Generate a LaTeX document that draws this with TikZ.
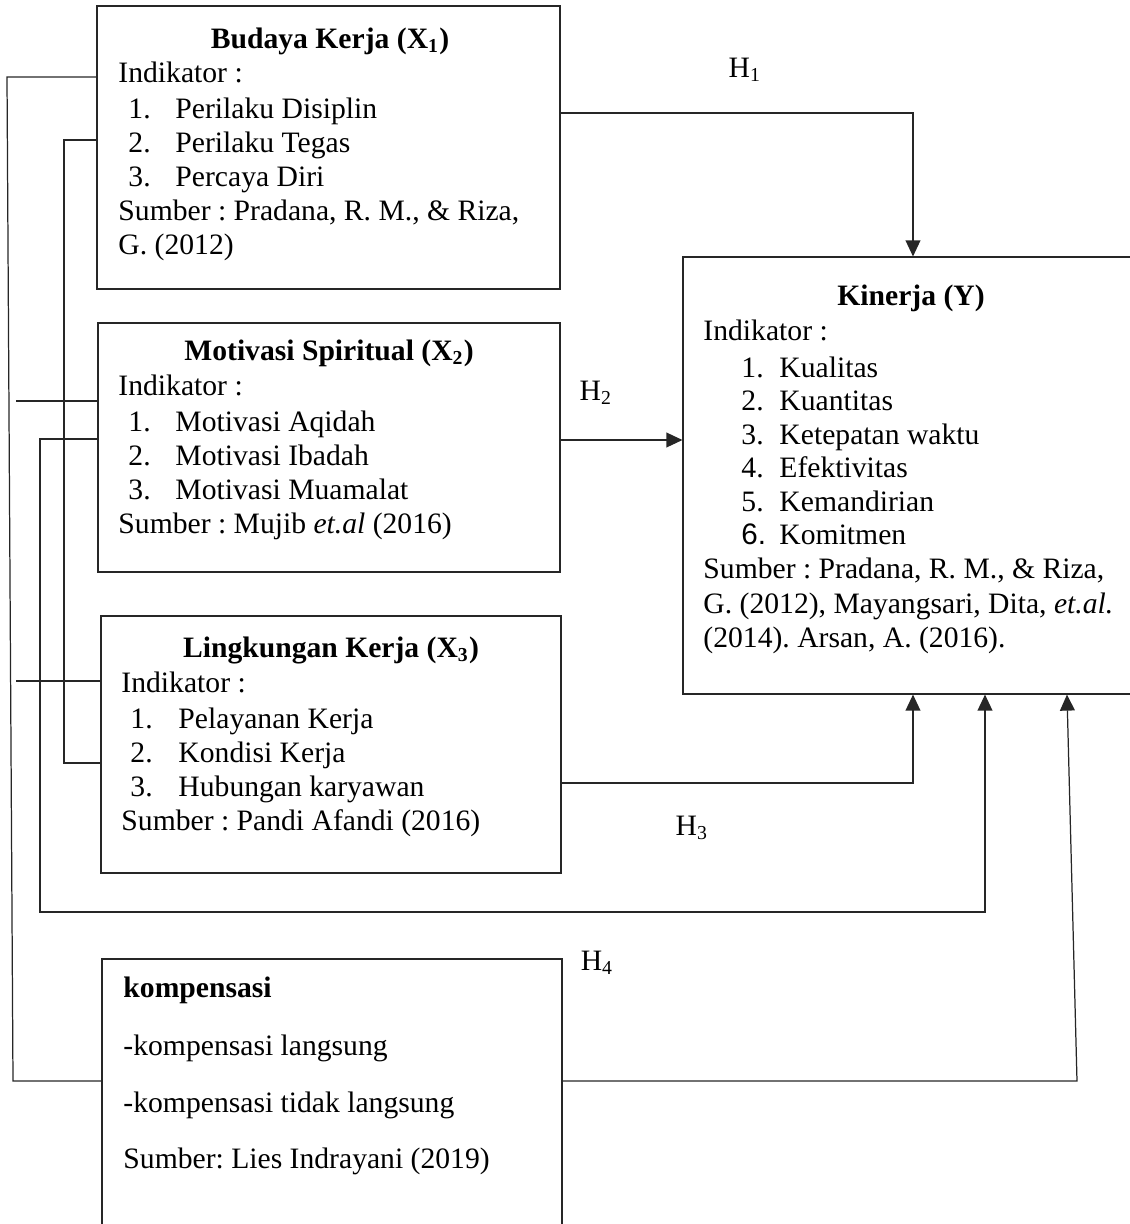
\documentclass[tikz,border=0pt]{standalone}
\usepackage{fontspec}
\setmainfont{Liberation Serif}
\setsansfont{Liberation Sans}
\usetikzlibrary{fit}
\usetikzlibrary{arrows.meta}
\frenchspacing
\tikzstyle{Box}=[draw=black!85,inner sep=0pt,line width=.45pt]
\tikzstyle{Edge}=[draw=black!85,line width=.5pt]
\tikzstyle{Arrow}=[Edge,-{Triangle[length=6.5pt,width=6pt]}]
\tikzstyle{Txt}=[anchor=base west,inner sep=0pt,
font=\fontsize{12}{14}\selectfont]
\tikzstyle{Title}=[anchor=base,inner sep=0pt,
font=\fontsize{12}{14}\selectfont\bfseries]
\tikzstyle{Hyp}=[anchor=base,inner sep=0pt,font=\fontsize{12}{14}\selectfont]

\begin{document}
\begin{tikzpicture}[x=.405pt,y=-.405pt]
        \useasboundingbox(0,0)rectangle(1130,1224);
        % boxes
        \node[Box,fit={(97,6)(560,289)}](budaya){};
        \node[Box,fit={(98,323)(560,572)}](motivasi){};
        \node[Box,fit={(101,616)(561,873)}](lingkungan){};
        \node[Box,fit={(102,959)(562,1236)}](kompensasi){};
        \node[Box,fit={(683,257)(1140,694)}](kinerja){};
        % Budaya Kerja
        \node[Title](tb)at(330,48){Budaya Kerja (X\textsubscript{1})};
        \node[Txt](ib)at(118,82){Indikator :};
        \foreach \t [count=\i] in {Perilaku Disiplin,Perilaku Tegas,
            Percaya Diri}{
            \node[Txt](nb\i)at(128,84+34*\i){\i.};
            \node[Txt](xb\i)at(175,84+34*\i){\t};
        }
        \node[Txt](sb1)at(118,220){Sumber : Pradana, R. M., \& Riza,};
        \node[Txt](sb2)at(118,254){G. (2012)};
        % Motivasi Spiritual
        \node[Title](tm)at(329,360){Motivasi Spiritual (X\textsubscript{2})};
        \node[Txt](im)at(118,395){Indikator :};
        \foreach \t [count=\i] in {Motivasi Aqidah,Motivasi Ibadah,
            Motivasi Muamalat}{
            \node[Txt](nm\i)at(128,397+34*\i){\i.};
            \node[Txt](xm\i)at(175,397+34*\i){\t};
        }
        \node[Txt](sm)at(118,533){Sumber : Mujib \textit{et.al} (2016)};
        % Lingkungan Kerja
        \node[Title](tl)at(331,657){Lingkungan Kerja (X\textsubscript{3})};
        \node[Txt](il)at(121,692){Indikator :};
        \foreach \t [count=\i] in {Pelayanan Kerja,Kondisi Kerja,
            Hubungan karyawan}{
            \node[Txt](nl\i)at(130,694+34*\i){\i.};
            \node[Txt](xl\i)at(178,694+34*\i){\t};
        }
        \node[Txt](sl)at(121,830){Sumber : Pandi Afandi (2016)};
        % kompensasi
        \node[Txt,font=\fontsize{12}{14}\selectfont\bfseries](tk)
            at(123,997){kompensasi};
        \node[Txt](xk1)at(123,1055){-kompensasi langsung};
        \node[Txt](xk2)at(123,1112){-kompensasi tidak langsung};
        \node[Txt](sk)at(123,1168){Sumber: Lies Indrayani (2019)};
        % Kinerja
        \node[Title](ty)at(911,305){Kinerja (Y)};
        \node[Txt](iy)at(703,340){Indikator :};
        \foreach \n/\t [count=\i] in {1./Kualitas,2./Kuantitas,
            3./Ketepatan waktu,4./Efektivitas,5./Kemandirian,
            \textsf{6.}/Komitmen}{
            \node[Txt](ny\i)at(741,343.5+33.5*\i){\n};
            \node[Txt](xy\i)at(779,343.5+33.5*\i){\t};
        }
        \node[Txt](sy1)at(703,578){Sumber : Pradana, R. M., \& Riza,};
        \node[Txt](sy2)at(703,613){G. (2012), Mayangsari, Dita,
            \textit{et.al.}};
        \node[Txt](sy3)at(703,647){(2014). Arsan, A. (2016).};
        % hypotheses
        \node[Hyp](h1)at(745,77){H\textsubscript{1}};
        \node[Hyp](h2)at(596,400){H\textsubscript{2}};
        \node[Hyp](h3)at(692,835){H\textsubscript{3}};
        \node[Hyp](h4)at(597,970){H\textsubscript{4}};
        % bends
        \coordinate(e1)at(913,113);
        \coordinate(f1)at(0,440);
        \coordinate(g1)at(913,783);
        \coordinate(d1)at(40,439);
        \coordinate(d2)at(40,912);
        \coordinate(d3)at(985,912);
        \coordinate(c1)at(64,140);
        \coordinate(c2)at(64,763);
        \coordinate(k1)at(7,77);
        \coordinate(k2)at(13,1081);
        \coordinate(m1)at(1077,1081);
        \coordinate(m2)at(1067,0);
        \coordinate(s2)at(16,401);
        \coordinate(s3)at(16,681);
        % connectors
        \draw[Arrow](budaya.east|-e1)--(e1)--(kinerja.north-|e1);
        \draw[Arrow](motivasi.east|-f1)--(kinerja.west|-f1);
        \draw[Arrow](lingkungan.east|-g1)--(g1)--(kinerja.south-|g1);
        \draw[Arrow](motivasi.west|-d1)--(d1)--(d2)--(d3)
            --(kinerja.south-|d3);
        \draw[Arrow](kompensasi.east|-m1)--(m1)--(kinerja.south-|m2);
        \draw[Edge](budaya.west|-c1)--(c1)--(c2)--(lingkungan.west|-c2);
        \draw[Edge](budaya.west|-k1)--(k1)--(k2)--(kompensasi.west|-k2);
        \draw[Edge](s2)--(motivasi.west|-s2);
        \draw[Edge](s3)--(lingkungan.west|-s3);
\end{tikzpicture}
\end{document}
